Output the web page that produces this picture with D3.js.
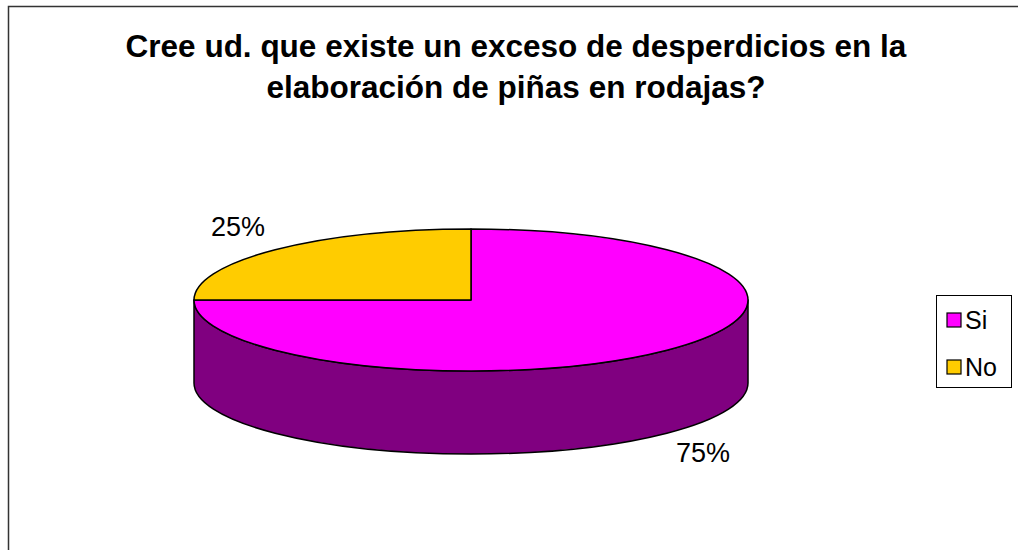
<!DOCTYPE html>
<html>
<head>
<meta charset="utf-8">
<script src="https://cdn.jsdelivr.net/npm/d3@7"></script>
<style>
  body { margin: 0; background: #fff; }
  svg { display: block; font-family: "Liberation Sans", Arial, sans-serif; }
</style>
</head>
<body>
<div id="chart"></div>
<script>
// Chart data
const categories = ['Si', 'No'];
const values = [75, 25];
const pctLabels = ['75%', '25%'];
const topColors = ['#FF00FF', '#FFCC00'];
const sideColors = ['#800080', '#806600'];
const titleLines = [
    'Cree ud. que existe un exceso de desperdicios en la',
    'elaboración de piñas en rodajas?'
];

const width = 1018;
const height = 550;

const svg = d3.select('#chart')
    .append('svg')
    .attr('width', width)
    .attr('height', height);

// Frame (only top and left edges visible)
svg.append('path')
    .attr('d', `M8.5,${height} L8.5,6.5 L${width},6.5`)
    .style('fill', 'none')
    .style('stroke', '#333')
    .style('stroke-width', 1.5);

// Title
svg.append('g')
    .selectAll('text')
    .data(titleLines)
    .enter()
    .append('text')
    .attr('x', 516)
    .attr('y', (d, i) => 57 + i * 41)
    .style('text-anchor', 'middle')
    .style('font-weight', 'bold')
    .style('font-size', '31.5px')
    .text(d => d);

// 3D pie geometry
const cx = 471, cy = 300, rx = 277, ry = 71, depth = 83;
const pt = (a, dy = 0) => [cx + rx * Math.sin(a), cy - ry * Math.cos(a) + dy];

const pie = d3.pie().sort(null).value(d => d)(values);

// Side walls (front half only: angles PI/2 .. 3PI/2)
function sidePath(a0, a1) {
    const s = Math.max(a0, Math.PI / 2);
    const e = Math.min(a1, 3 * Math.PI / 2);
    if (e <= s) return null;
    const p0 = pt(s), p1 = pt(e), b1 = pt(e, depth), b0 = pt(s, depth);
    return `M${p0} A${rx},${ry} 0 0 1 ${p1} L${b1} A${rx},${ry} 0 0 0 ${b0} Z`;
}

const pieG = svg.append('g');

pieG.selectAll('path.side')
    .data(pie.filter(d => sidePath(d.startAngle, d.endAngle)))
    .enter()
    .append('path')
    .attr('class', 'side')
    .attr('d', d => sidePath(d.startAngle, d.endAngle))
    .style('fill', d => sideColors[d.index])
    .style('stroke', '#000')
    .style('stroke-width', 1.5)
    .style('stroke-linejoin', 'round');

// Top faces
function topPath(a0, a1) {
    const p0 = pt(a0), p1 = pt(a1);
    const large = (a1 - a0) > Math.PI ? 1 : 0;
    return `M${cx},${cy} L${p0} A${rx},${ry} 0 ${large} 1 ${p1} Z`;
}

pieG.selectAll('path.top')
    .data(pie)
    .enter()
    .append('path')
    .attr('class', 'top')
    .attr('d', d => topPath(d.startAngle, d.endAngle))
    .style('fill', d => topColors[d.index])
    .style('stroke', '#000')
    .style('stroke-width', 1.5)
    .style('stroke-linejoin', 'round');

// Percentage labels
const labelPos = [[703, 462], [238, 236]];
svg.append('g')
    .selectAll('text')
    .data(pie)
    .enter()
    .append('text')
    .attr('x', d => labelPos[d.index][0])
    .attr('y', d => labelPos[d.index][1])
    .style('text-anchor', 'middle')
    .style('font-size', '27px')
    .text(d => pctLabels[d.index]);

// Legend
const legend = svg.append('g').attr('transform', 'translate(936,295)');
legend.append('rect')
    .attr('x', 0.5).attr('y', 0.5)
    .attr('width', 75).attr('height', 92)
    .style('fill', '#fff')
    .style('stroke', '#000')
    .style('stroke-width', 1);

const item = legend.selectAll('g.item')
    .data(categories)
    .enter()
    .append('g')
    .attr('class', 'item')
    .attr('transform', (d, i) => `translate(11,${18 + i * 47})`);

item.append('rect')
    .attr('width', 14).attr('height', 14)
    .style('fill', (d, i) => topColors[i])
    .style('stroke', '#000')
    .style('stroke-width', 1.2);

item.append('text')
    .attr('x', 18)
    .attr('y', 16)
    .style('font-size', '25px')
    .text(d => d);
</script>
</body>
</html>
